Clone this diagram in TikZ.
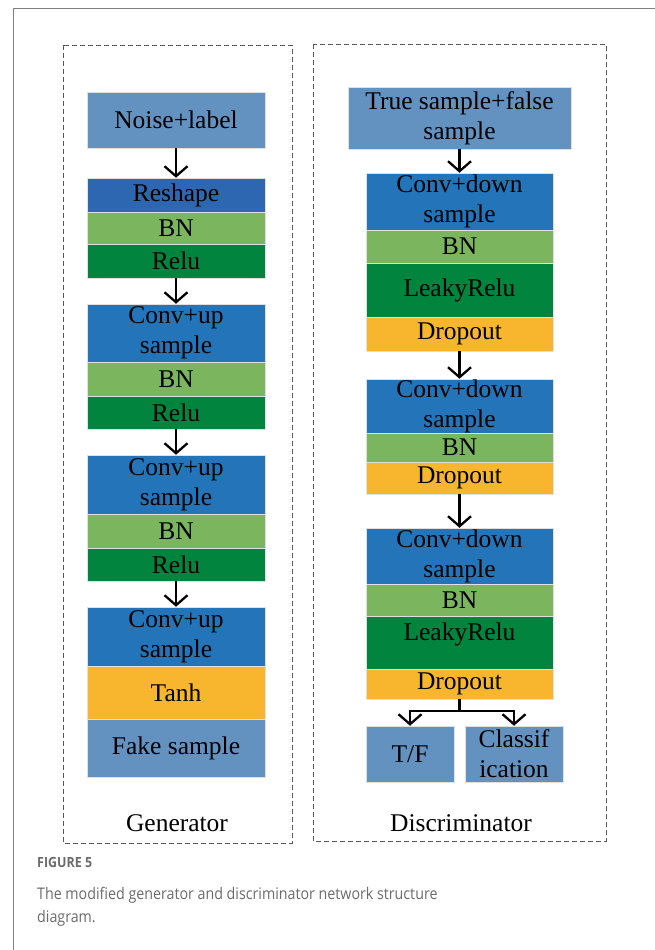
\documentclass[tikz,border=0pt]{standalone}
\usepackage{fontspec}
\setmainfont{Liberation Serif}
\newfontfamily\capfont[FakeStretch=0.89]{Open Sans}
\usetikzlibrary{arrows.meta}
\definecolor{inblue}{RGB}{99,146,193}
\definecolor{reblue}{RGB}{46,103,177}
\definecolor{convblue}{RGB}{35,116,185}
\definecolor{bngreen}{RGB}{123,181,93}
\definecolor{reludark}{RGB}{0,132,62}
\definecolor{droporange}{RGB}{247,182,45}

\begin{document}
\begin{tikzpicture}[x=1pt, y=-1pt,
  layer/.style={rectangle, inner sep=0pt, draw=black!12, line width=0.5pt, align=center, font=\fontsize{25.5}{30}\selectfont},
  genlayer/.style={layer, minimum width=178pt},
  dislayer/.style={layer, minimum width=187pt},
  flow/.style={line width=2.3pt, -{Straight Barb[length=10pt,width=23pt]}},
  frame/.style={dash pattern=on 5pt off 3pt, black!65, line width=0.8pt}]
\useasboundingbox (0,0) rectangle (655,950);
\draw[black!50, line width=0.8pt] (13,950) -- (13,8) -- (655,8);
\draw[frame] (63,45) rectangle (292,843);
\draw[frame] (313,44) rectangle (606,841);
% generator
\path (176,120) node (noise) [genlayer, fill=inblue, minimum height=56pt] {Noise+label};
\path (176,195) node (reshape) [genlayer, fill=reblue, minimum height=34pt] {Reshape};
\path (176,228) node (gbn1) [genlayer, fill=bngreen, minimum height=32pt] {BN};
\path (176,261) node (grelu1) [genlayer, fill=reludark, minimum height=34pt] {Relu};
\path (176,333) node (gconv1) [genlayer, fill=convblue, minimum height=58pt] {Conv+up\\sample};
\path (176,379) node (gbn2) [genlayer, fill=bngreen, minimum height=34pt] {BN};
\path (176,412.5) node (grelu2) [genlayer, fill=reludark, minimum height=33pt] {Relu};
\path (176,484.5) node (gconv2) [genlayer, fill=convblue, minimum height=59pt] {Conv+up\\sample};
\path (176,531) node (gbn3) [genlayer, fill=bngreen, minimum height=34pt] {BN};
\path (176,564.5) node (grelu3) [genlayer, fill=reludark, minimum height=33pt] {Relu};
\path (176,636.5) node (gconv3) [genlayer, fill=convblue, minimum height=59pt] {Conv+up\\sample};
\path (176,692.5) node (tanh) [genlayer, fill=droporange, minimum height=53pt] {Tanh};
\path (176,748) node (fake) [genlayer, fill=inblue, minimum height=58pt] {Fake sample};
\path (177,823) node (gen) [font=\fontsize{25.5}{30}\selectfont] {Generator};
\draw[flow] (noise) -- (reshape);
\draw[flow] (grelu1) -- (gconv1);
\draw[flow] (grelu2) -- (gconv2);
\draw[flow] (grelu3) -- (gconv3);
% discriminator
\path (459.5,118) node (input) [layer, minimum width=223pt, fill=inblue, minimum height=62pt] {True sample+false\\sample};
\path (459.5,201.5) node (dconv1) [dislayer, fill=convblue, minimum height=57pt] {Conv+down\\sample};
\path (459.5,246.5) node (dbn1) [dislayer, fill=bngreen, minimum height=33pt] {BN};
\path (459.5,290) node (leaky1) [dislayer, fill=reludark, minimum height=54pt] {LeakyRelu};
\path (459.5,334) node (drop1) [dislayer, fill=droporange, minimum height=34pt] {Dropout};
\path (459.5,406) node (dconv2) [dislayer, fill=convblue, minimum height=54pt] {Conv+down\\sample};
\path (459.5,447.5) node (dbn2) [dislayer, fill=bngreen, minimum height=29pt] {BN};
\path (459.5,478) node (drop2) [dislayer, fill=droporange, minimum height=32pt] {Dropout};
\path (459.5,556) node (dconv3) [dislayer, fill=convblue, minimum height=56pt] {Conv+down\\sample};
\path (459.5,600) node (dbn3) [dislayer, fill=bngreen, minimum height=32pt] {BN};
\path (459.5,642.5) node (leaky3) [dislayer, fill=reludark, minimum height=53pt, text height=20pt, text depth=25pt] {LeakyRelu};
\path (459.5,684) node (drop3) [dislayer, fill=droporange, minimum height=30pt] {Dropout};
\path (410,754) node (tf) [layer, fill=inblue, minimum width=88pt, minimum height=56pt] {T/F};
\path (514,754) node (cls) [layer, fill=inblue, minimum width=98pt, minimum height=56pt] {Classif\\ication};
\path (461,823) node (dis) [font=\fontsize{25.5}{30}\selectfont] {Discriminator};
\coordinate (split) at (459.5,711);
\draw[flow] (input) -- (dconv1);
\draw[flow] (drop1) -- (dconv2);
\draw[flow] (drop2) -- (dconv3);
\draw[flow] (drop3.south) -- (split) -| (tf.north);
\draw[flow] (split) -| (cls.north);
% caption
\path (37,867) node (fig) [anchor=base west, inner sep=0pt, text=black!58, font=\capfont\bfseries\fontsize{14}{16}\selectfont] {FIGURE 5};
\path (37,887) node (cap) [anchor=north west, inner sep=0pt, align=left, text=black!58, font=\capfont\fontsize{16}{23}\selectfont] {The modified generator and discriminator network structure\\diagram.};
\end{tikzpicture}
\end{document}
